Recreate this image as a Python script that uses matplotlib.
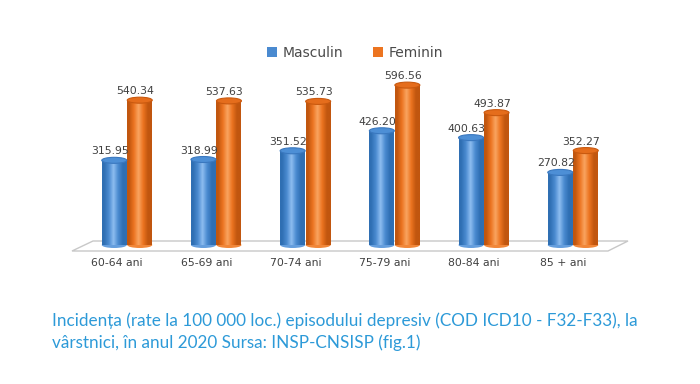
import numpy as np
import matplotlib
matplotlib.use("Agg")
import matplotlib.pyplot as plt
from matplotlib.patches import Ellipse, Polygon, Rectangle, Patch

categories = ["60-64 ani", "65-69 ani", "70-74 ani", "75-79 ani", "80-84 ani", "85 + ani"]
masculin = [315.95, 318.99, 351.52, 426.20, 400.63, 270.82]
feminin = [540.34, 537.63, 535.73, 596.56, 493.87, 352.27]
series_names = ["Masculin", "Feminin"]
caption = ("Incidența (rate la 100 000 loc.) episodului depresiv (COD ICD10 - F32-F33), la\n"
           "vârstnici, în anul 2020 Sursa: INSP-CNSISP (fig.1)")

W, H = 700, 384
fig = plt.figure(figsize=(W / 100, H / 100), dpi=100)
fig.patch.set_facecolor("white")

px_per_cat = 89.2
x0_px = 127
zero_px_from_top = 245
px_per_unit = 0.268
ax = fig.add_axes([0, 0, 1, 1])
ax.set_xlim(-x0_px / px_per_cat, (W - x0_px) / px_per_cat)
ax.set_ylim(-(H - zero_px_from_top) / px_per_unit, zero_px_from_top / px_per_unit)
ax.axis("off")

def px2x(px):
    return (px - x0_px) / px_per_cat

def py2y(py):
    return (zero_px_from_top - py) / px_per_unit

floor = Polygon([(px2x(72), py2y(251)), (px2x(608), py2y(251)),
                 (px2x(628), py2y(241)), (px2x(93), py2y(241))],
                closed=True, facecolor="white", edgecolor="#c8c8c8", lw=1.0, zorder=1)
ax.add_patch(floor)

bw = 0.28
ell_h = 6 / px_per_unit

def cmap_from(dark, mid, light):
    from matplotlib.colors import LinearSegmentedColormap
    return LinearSegmentedColormap.from_list("c", [dark, mid, light, mid, dark])

blue_cmap = cmap_from("#2f6fb3", "#4a8ad0", "#8dbdf0")
orange_cmap = cmap_from("#c1560f", "#ec7420", "#f9a460")
grad = np.linspace(0, 1, 64).reshape(1, -1)
grad = np.clip(grad * 1.3 - 0.1, 0, 1)

def cylinder(xc, h, cmap, top_col, edge_col):
    xl, xr = xc - bw / 2, xc + bw / 2
    im = ax.imshow(grad, cmap=cmap, extent=[xl, xr, 0, h], aspect="auto", zorder=3,
                   interpolation="bilinear")
    clip = Rectangle((xl, 0), bw, h, transform=ax.transData)
    im.set_clip_path(clip)
    bottom = Ellipse((xc, 0), bw, ell_h, facecolor=cmap(0.35), edgecolor="none", zorder=2.9)
    ax.add_patch(bottom)
    top = Ellipse((xc, h), bw, ell_h, facecolor=top_col, edgecolor=edge_col, lw=0.8, zorder=4)
    ax.add_patch(top)

lab_dx = 4.5 / px_per_cat
lab_dy = 9 / px_per_unit
for i in range(len(categories)):
    xb, xo = i - 0.143, i + 0.143
    cylinder(xb, masculin[i], blue_cmap, "#4d8fd6", "#3a78bf")
    cylinder(xo, feminin[i], orange_cmap, "#e56d1c", "#c9590f")
    ax.text(xb - lab_dx, masculin[i] + lab_dy, f"{masculin[i]:.2f}", ha="center",
            va="center", fontsize=7.8, color="#404040", zorder=5)
    ax.text(xo - lab_dx, feminin[i] + lab_dy, f"{feminin[i]:.2f}", ha="center",
            va="center", fontsize=7.8, color="#404040", zorder=5)
    ax.text(i - 10 / px_per_cat, py2y(263), categories[i], ha="center", va="center",
            fontsize=7.8, color="#404040", zorder=5)

handles = [Patch(facecolor="#4a8ad0", edgecolor="none"),
           Patch(facecolor="#ec7420", edgecolor="none")]
leg = fig.legend(handles, series_names, loc="center", bbox_to_anchor=(355 / W, 1 - 53 / H),
                 ncol=2, frameon=False, fontsize=10, handlelength=0.7, handleheight=0.7,
                 handletextpad=0.4, columnspacing=2.2)
for t in leg.get_texts():
    t.set_color("#4a4a4a")

fig.text(52 / W, 1 - 332 / H, caption, ha="left", va="center", fontsize=12.3,
         color="#2d9ad8", family=["Lato", "DejaVu Sans"], linespacing=1.4)

fig.savefig("out.png", dpi=100, facecolor="white")
